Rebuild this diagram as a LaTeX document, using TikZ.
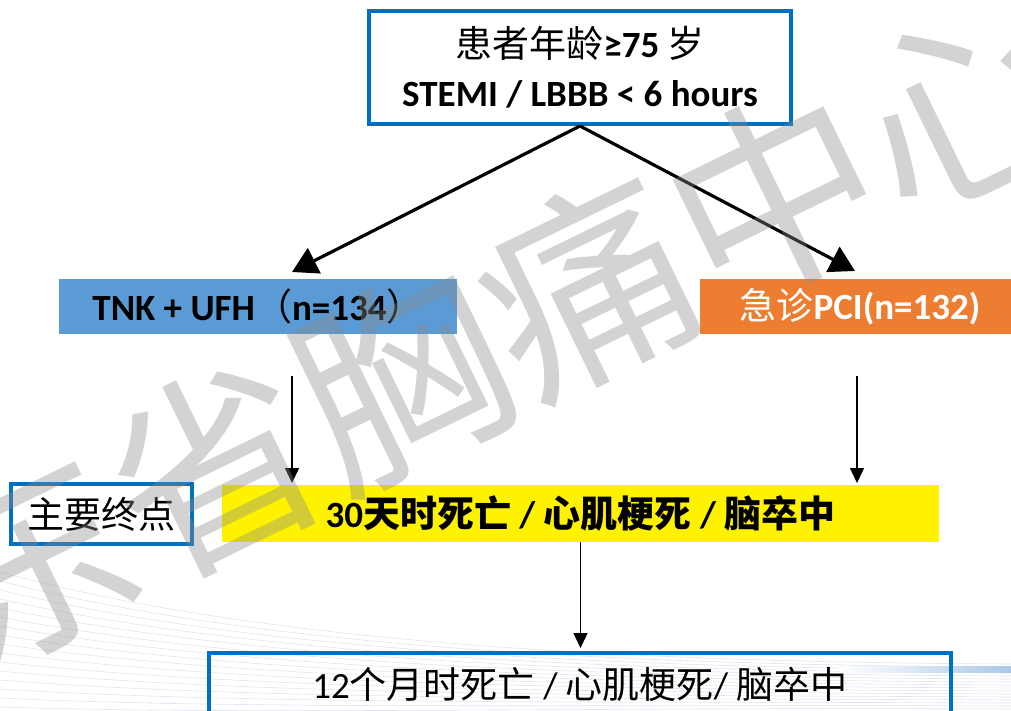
\documentclass[tikz,border=0pt]{standalone}
\usepackage{fontspec}
\setmainfont{Carlito}
\newfontfamily\cjk{Noto Sans CJK SC}
\usetikzlibrary{arrows.meta}
\definecolor{bordblue}{RGB}{0,112,192}
\definecolor{tnkblue}{RGB}{91,155,213}
\definecolor{pciorange}{RGB}{237,125,49}
\definecolor{bgline}{RGB}{224,228,238}
\definecolor{wmgray}{RGB}{140,140,140}
\definecolor{bandblue}{RGB}{170,200,232}
\begin{document}
\begin{tikzpicture}[x=1pt,y=-1pt,
  bluebox/.style={draw=bordblue,line width=4pt,inner sep=0pt,align=center},
  fillbox/.style={draw=none,inner sep=0pt,align=center},
  bigarrow/.style={line width=3.2pt,-{Triangle[length=25pt,width=28pt]}},
  thinarrow/.style={line width=1.4pt,-{Triangle[length=15pt,width=14pt]}},
  txt/.style={font=\fontsize{37}{49}\selectfont},
  btxt/.style={font=\fontsize{37}{49}\selectfont\bfseries}]
\useasboundingbox (0,0) rectangle (1011,711);
\begin{scope}
\clip (0,0) rectangle (1011,711);
% faint background lines
\foreach \i in {0,...,17}
  \draw[bgline, line width=0.6pt] (0,{572+\i*9}) .. controls (250,{640+\i*5}) and (600,{662+\i*3}) .. (1011,{664+\i*3});
\fill[left color=white, right color=bandblue] (840,666) rectangle (1011,672);

% boxes
\node[bluebox, btxt, minimum width=422pt, minimum height=113pt] (top) at (580,67.5)
  {{\cjk\mdseries 患者年龄}≥75 {\cjk\mdseries 岁}\\STEMI / LBBB < 6 hours};
\node[fillbox, fill=tnkblue, btxt, minimum width=398pt, minimum height=55pt] (tnk) at (258,306.5)
  {TNK + UFH{\cjk\mdseries （}n=134{\cjk\mdseries ）}};
\node[fillbox, fill=pciorange, btxt, text=white, minimum width=320pt, minimum height=55pt] (pci) at (860,306.5)
  {{\cjk\mdseries 急诊}PCI(n=132)};
\node[bluebox, txt, minimum width=181pt, minimum height=60pt] (endpt) at (101.5,514)
  {{\cjk 主要终点}};
\node[fillbox, fill=yellow, btxt, minimum width=717pt, minimum height=57pt] (yel) at (580.5,513.5)
  {30{\cjk 天时死亡} / {\cjk 心肌梗死} / {\cjk 脑卒中}};
\node[bluebox, txt, minimum width=742pt, minimum height=63pt] (bot) at (580,684.5)
  {12{\cjk 个月时死亡} / {\cjk 心肌梗死}/ {\cjk 脑卒中}};

% connectors
\coordinate (tipL) at (292,272);
\coordinate (tipR) at (855,271);
\coordinate (vLa) at (292,376);
\coordinate (vLb) at (292,483);
\coordinate (vRa) at (857,376);
\coordinate (vRb) at (857,483);
\draw[bigarrow] (top.south) -- (tipL);
\draw[bigarrow] (top.south) -- (tipR);
\draw[thinarrow] (vLa) -- (vLb);
\draw[thinarrow] (vRa) -- (vRb);
\draw[thinarrow, shorten >=3pt] (yel.south) -- (yel.south |- bot.north);

% watermark
\node[rotate=26, text=wmgray, text opacity=0.38, font=\cjk\fontsize{208}{208}\selectfont, inner sep=0pt] (wm) at (494,332) {东省胸痛中心};
\end{scope}
\end{tikzpicture}
\end{document}
